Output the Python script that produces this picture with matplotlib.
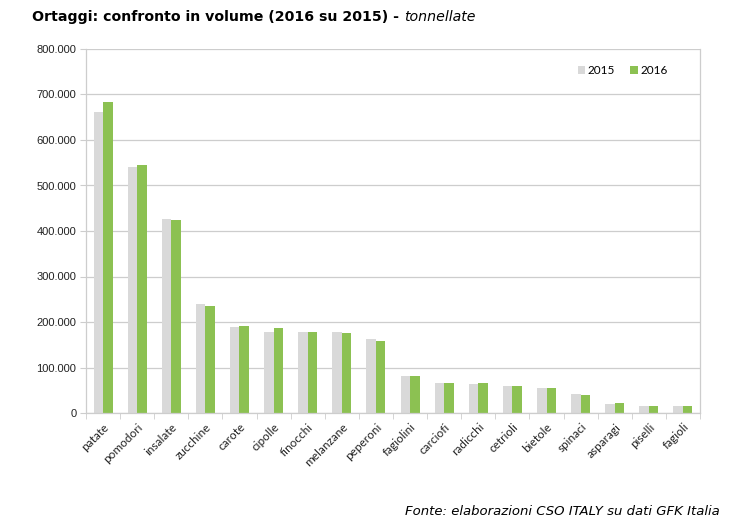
import numpy as np
import matplotlib.pyplot as plt
from matplotlib.ticker import FuncFormatter

categorie = ['patate', 'pomodori', 'insalate', 'zucchine', 'carote', 'cipolle',
             'finocchi', 'melanzane', 'peperoni', 'fagiolini', 'carciofi', 'radicchi',
             'cetrioli', 'bietole', 'spinaci', 'asparagi', 'piselli', 'fagioli']
v2015 = [662000, 541000, 427000, 240000, 188000, 179000, 177000, 177000, 162000,
         81000, 67000, 64000, 59000, 56000, 41000, 20000, 16000, 15000]
v2016 = [683000, 545000, 424000, 235000, 191000, 187000, 177000, 175000, 158000,
         82000, 67000, 67000, 59000, 56000, 39000, 22000, 16000, 15000]

grigio = '#d9d9d9'
verde = '#8cc152'
linea = '#cdcdcd'

fig = plt.figure(figsize=(7.41, 5.30), dpi=100)
ax = fig.add_axes([86/741, 1-413/530, (700-86)/741, (413-49)/530])

x = np.arange(len(categorie))
w = 0.28
ax.bar(x - w/2, v2015, w, color=grigio, label='2015', zorder=2)
ax.bar(x + w/2, v2016, w, color=verde, label='2016', zorder=2)

ax.set_xlim(-0.5, len(categorie) - 0.5)
ax.set_ylim(0, 800000)
ax.set_yticks(np.arange(0, 800001, 100000))
ax.yaxis.set_major_formatter(FuncFormatter(lambda v, p: f'{int(v):,}'.replace(',', '.')))
ax.grid(axis='y', color=linea, linewidth=0.9, zorder=0)

ax.set_xticks(x)
ax.set_xticklabels(categorie, rotation=45, ha='right', rotation_mode='anchor',
                   fontsize=8.5, family='Lato', color='#222222')
ax.set_xticks(np.arange(-0.5, len(categorie)), minor=True)
ax.tick_params(axis='x', which='major', length=0, pad=6)
ax.tick_params(axis='x', which='minor', length=4, color=linea)
ax.tick_params(axis='y', length=4, color=linea, labelsize=8, labelcolor='#222222', pad=3)
for lab in ax.get_yticklabels():
    lab.set_family('Liberation Sans')

for s in ['left', 'right', 'bottom']:
    ax.spines[s].set_color(linea)
    ax.spines[s].set_linewidth(0.9)
ax.spines['top'].set_visible(False)

ax.legend(loc='upper right', bbox_to_anchor=(0.965, 0.985), ncol=2, frameon=False,
          handlelength=0.6, handleheight=0.6, handletextpad=0.25, columnspacing=1.3,
          prop={'family': 'Lato', 'size': 8.5})

t1 = fig.text(32/741, 1-21/530, 'Ortaggi: confronto in volume (2016 su 2015) - ',
              fontsize=10.2, fontweight='bold', family='DejaVu Sans', va='baseline')
fig.canvas.draw()
bb = t1.get_window_extent()
fig.text(bb.x1/741, 1-21/530, 'tonnellate', fontsize=10.2, style='italic',
         family='DejaVu Sans', va='baseline')

fig.text(720/741, 1-515/530, 'Fonte: elaborazioni CSO ITALY su dati GFK Italia',
         fontsize=9.5, style='italic', family='DejaVu Sans', ha='right', va='baseline')

fig.savefig('out.png', dpi=100)
